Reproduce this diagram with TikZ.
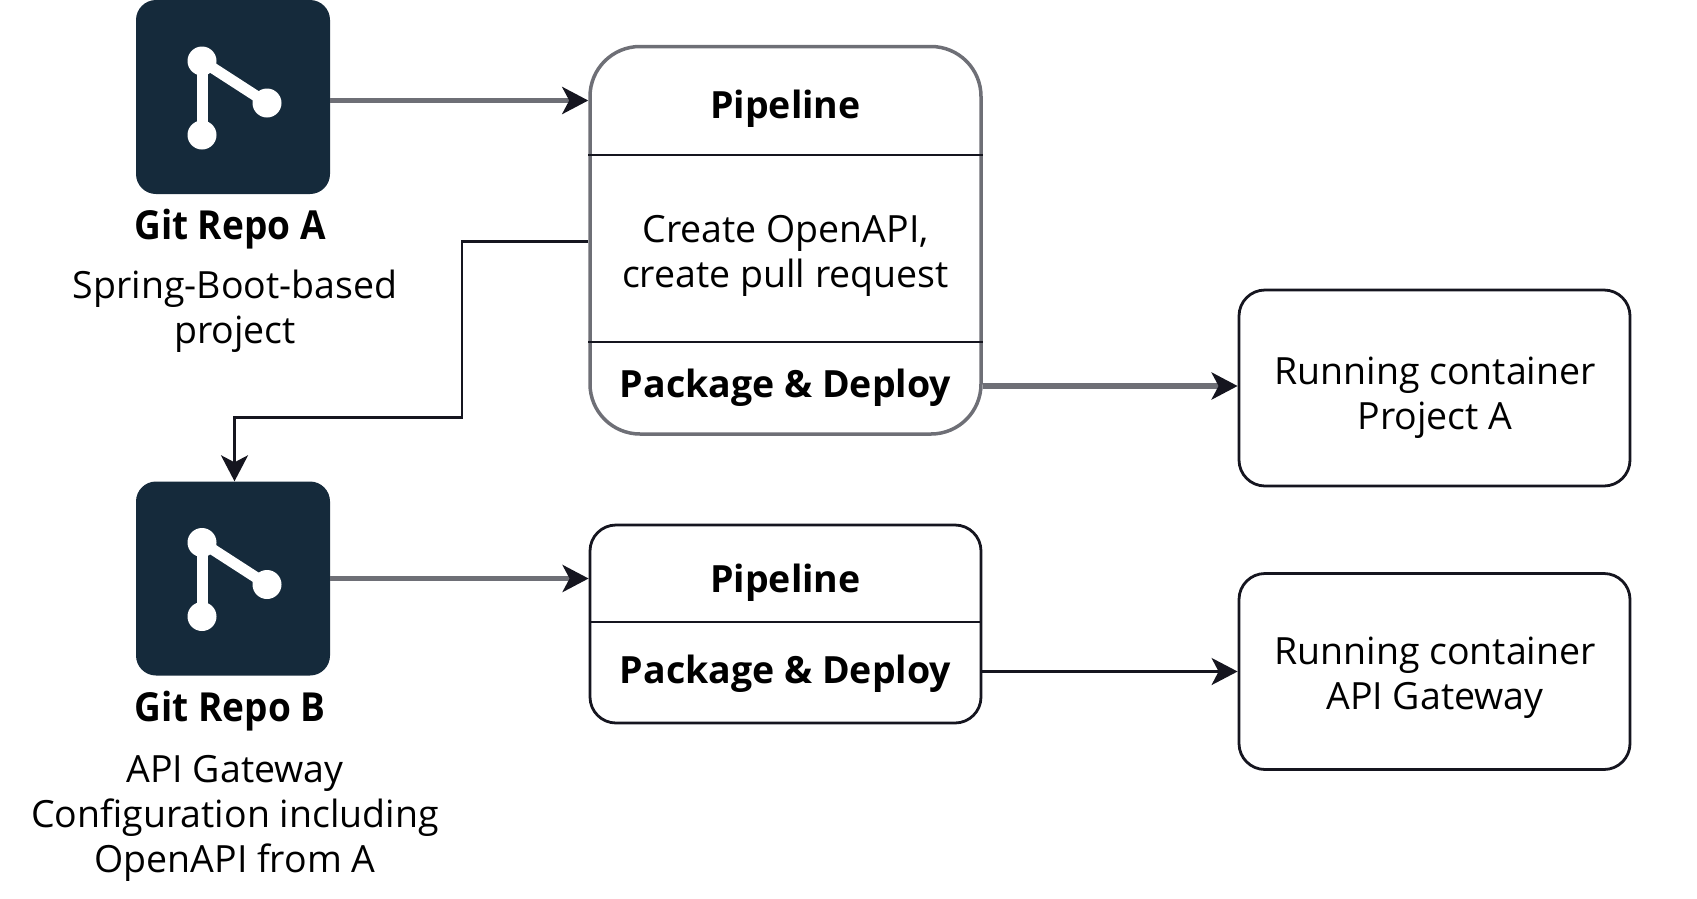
\documentclass[tikz,border=0pt]{standalone}
\usepackage{fontspec}
\setmainfont{Open Sans}
\usepackage{tikz}
\usetikzlibrary{arrows.meta,positioning}
\definecolor{tiledark}{HTML}{152A3B}
\definecolor{linedark}{HTML}{15151F}
\definecolor{linegray}{HTML}{6E6F76}

\begin{document}
\begin{tikzpicture}[
    x=1pt, y=-1pt,
    >={Stealth[length=26pt,width=27pt,inset=7pt,color=linedark]},
    font=\fontsize{37.5}{45}\selectfont,
    repo/.style={
		rectangle,
		rounded corners=20pt,
		fill=tiledark,
		minimum width=194pt,
		minimum height=194pt,
		inner sep=0pt
	},
	dot/.style={
		circle,
		fill=white,
		minimum size=29pt,
		inner sep=0pt
	},
	box/.style={
		rectangle,
		rounded corners=26pt,
		draw=linedark,
		line width=2.8pt,
		minimum width=391pt,
		inner sep=0pt
	},
	grayline/.style={
		draw=linegray,
		line width=5.5pt
	},
	thinline/.style={
		draw=linedark,
		line width=2.8pt
	},
	plain/.style={
		align=center,
		inner sep=0pt
	},
	heading/.style={
		align=center,
		inner sep=0pt,
		font=\fontsize{37.5}{45}\selectfont\bfseries
	},
	reponame/.style={
		inner sep=0pt,
		xscale=0.925,
		font=\fontsize{40}{45}\selectfont\bfseries
	}
  ]
  \useasboundingbox (0,0) rectangle (1697,898);

  % the two repositories
  \node [repo] (repoA) at (233,97) {};
  \node [repo] (repoB) at (233,578.5) {};

  \foreach \repo in {repoA,repoB} {
    \node [dot] (\repo top) at ([shift={(-31,-36)}]\repo.center) {};
    \node [dot] (\repo right) at ([shift={(34,6)}]\repo.center) {};
    \node [dot] (\repo bottom) at ([shift={(-31,38)}]\repo.center) {};
    \draw [white, line width=11pt] (\repo top.center) -- (\repo bottom.center);
    \draw [white, line width=11pt] (\repo top.center) -- (\repo right.center);
  }

  \node [reponame] (repoAname) at (230,229) {Git Repo A};
  \node [plain] (repoAinfo) at (235,311.5) {Spring-Boot-based\\project};
  \node [reponame] (repoBname) at (230,711) {Git Repo B};
  \node [plain] (repoBinfo) at (235,818.5) {API Gateway\\Configuration including\\OpenAPI from A};

  % We place the pipelines
  \node [box, draw=linegray, line width=3.5pt, minimum height=387.5pt, rounded corners=50pt] (pipeA) at (785.5,240.25) {};
  \node [box, minimum height=198pt] (pipeB) at (785.5,624) {};

  \coordinate (pipeAtop) at (pipeA.west |- 0,155);
  \coordinate (pipeAlow) at (pipeA.west |- 0,342);
  \coordinate (pipeBmid) at (pipeB.west |- 0,622);
  \draw [thinline] (pipeAtop) -- (pipeAtop -| pipeA.east);
  \draw [thinline] (pipeAlow) -- (pipeAlow -| pipeA.east);
  \draw [thinline] (pipeBmid) -- (pipeBmid -| pipeB.east);

  \node [heading] (pipeAname) at (785.5,108.5) {Pipeline};
  \node [plain] (pipeAtask) at (785.5,255.5) {Create OpenAPI,\\create pull request};
  \node [heading] (pipeAdeploy) at (785.5,388) {Package \& Deploy};
  \node [heading] (pipeBname) at (785.5,583) {Pipeline};
  \node [heading] (pipeBdeploy) at (785.5,674) {Package \& Deploy};

  % and the containers
  \node [box, minimum height=196pt] (runA) at (1434.5,388) {};
  \node [box, minimum height=196pt] (runB) at (1434.5,671.5) {};
  \node [plain] (runAtext) at (1435,397.5) {Running container\\Project A};
  \node [plain] (runBtext) at (1435,678) {Running container\\API Gateway};

  \coordinate (bendA) at (462,241.5);
  \coordinate (bendB) at (462,417.5);
  \coordinate (bendC) at (234.5,417.5);

  \draw [grayline,->] (repoA.east |- 0,100.5) -- (pipeA.west |- 0,100.5);
  \draw [grayline,->] (repoB.east |- 0,578.5) -- (pipeB.west |- 0,578.5);
  \draw [grayline,->] (pipeA.east |- 0,386) -- (runA.west |- 0,386);
  \draw [thinline,->] (pipeB.east |- 0,671.5) -- (runB.west |- 0,671.5);
  \draw [thinline,->] (pipeA.west |- bendA) -- (bendA) -- (bendB) -- (bendC) -- (bendC |- repoB.north);

\end{tikzpicture}
\end{document}
